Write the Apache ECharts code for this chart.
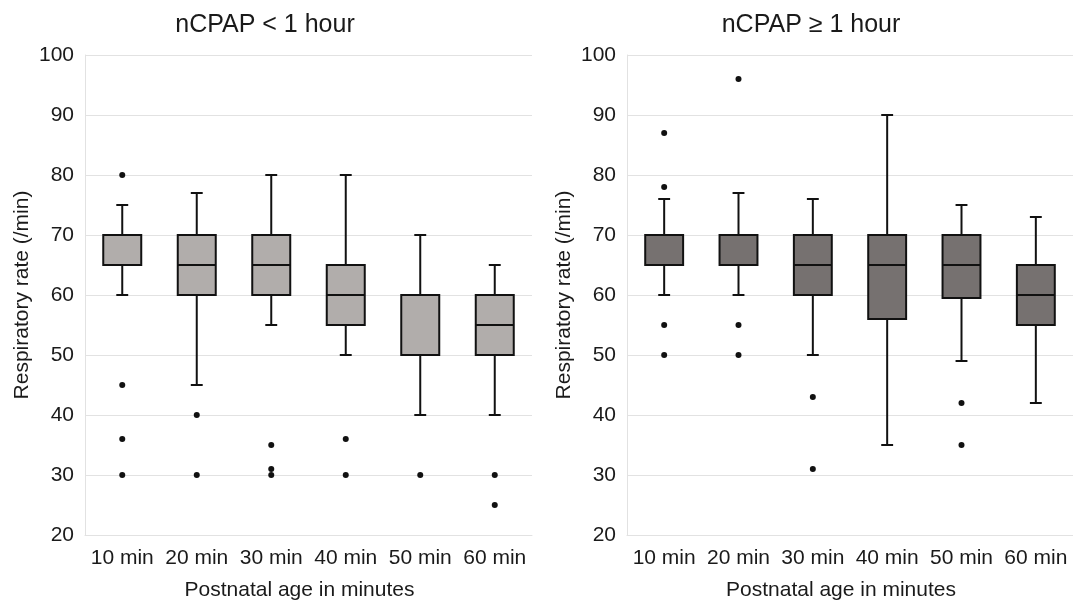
<!DOCTYPE html>
<html>
<head>
<meta charset="utf-8">
<script src="https://cdn.jsdelivr.net/npm/echarts@6/dist/echarts.min.js"></script>
<style>
  html, body { margin: 0; padding: 0; background: #fff; }
  #chart { width: 1073px; height: 605px; }
</style>
</head>
<body>
<div id="chart"></div>
<script>
// 分类
const categories = ['10 min', '20 min', '30 min', '40 min', '50 min', '60 min'];
const yTicks = [20, 30, 40, 50, 60, 70, 80, 90, 100];

// nCPAP < 1 hour: [下须, Q1, 中位数, Q3, 上须]
const shortBoxes = [
    [60, 65, 70, 70, 75],
    [45, 60, 65, 70, 77],
    [55, 60, 65, 70, 80],
    [50, 55, 60, 65, 80],
    [40, 50, 50, 60, 70],
    [40, 50, 55, 60, 65]
];
// 离群点 [分类索引, 值]
const shortOutliers = [
    [0, 80], [0, 45], [0, 36], [0, 30],
    [1, 40], [1, 30],
    [2, 35], [2, 31], [2, 30],
    [3, 36], [3, 30],
    [4, 30],
    [5, 30], [5, 25]
];

// nCPAP ≥ 1 hour
const longBoxes = [
    [60, 65, 70, 70, 76],
    [60, 65, 70, 70, 77],
    [50, 60, 65, 70, 76],
    [35, 56, 65, 70, 90],
    [49, 59.5, 65, 70, 75],
    [42, 55, 60, 65, 73]
];
const longOutliers = [
    [0, 87], [0, 78], [0, 55], [0, 50],
    [1, 96], [1, 55], [1, 50],
    [2, 43], [2, 31],
    [4, 42], [4, 35]
];

const textColor = '#1a1a1a';
const gridColor = '#e2e2e2';
const fontFamily = 'Liberation Sans, Arial, sans-serif';

// 自定义箱线图（须线端帽较短）
function makeBoxRender(fill) {
    return function (params, api) {
        const idx = api.value(0);
        const low = api.coord([idx, api.value(1)]);
        const q1 = api.coord([idx, api.value(2)]);
        const med = api.coord([idx, api.value(3)]);
        const q3 = api.coord([idx, api.value(4)]);
        const high = api.coord([idx, api.value(5)]);
        const band = api.size([1, 0])[0];
        const bw = band * 0.51;
        const cw = band * 0.16;
        const x = low[0];
        const lineStyle = { stroke: '#111', lineWidth: 2 };
        return {
            type: 'group',
            children: [
                { type: 'line', shape: { x1: x, y1: q3[1], x2: x, y2: high[1] }, style: lineStyle },
                { type: 'line', shape: { x1: x, y1: q1[1], x2: x, y2: low[1] }, style: lineStyle },
                { type: 'line', shape: { x1: x - cw / 2, y1: high[1], x2: x + cw / 2, y2: high[1] }, style: lineStyle },
                { type: 'line', shape: { x1: x - cw / 2, y1: low[1], x2: x + cw / 2, y2: low[1] }, style: lineStyle },
                { type: 'rect', shape: { x: x - bw / 2, y: q3[1], width: bw, height: q1[1] - q3[1] },
                  style: { fill: fill, stroke: '#111', lineWidth: 2 } },
                { type: 'line', shape: { x1: x - bw / 2, y1: med[1], x2: x + bw / 2, y2: med[1] }, style: lineStyle }
            ]
        };
    };
}

function boxData(boxes) {
    return boxes.map(function (b, i) { return [i].concat(b); });
}

function makeXAxis(gridIndex) {
    return {
        type: 'category',
        gridIndex: gridIndex,
        data: categories,
        boundaryGap: true,
        axisTick: { show: false },
        axisLine: { lineStyle: { color: gridColor, width: 1 } },
        axisLabel: { color: textColor, fontSize: 21, fontFamily: fontFamily, margin: 13, interval: 0 },
        name: 'Postnatal age in minutes',
        nameLocation: 'middle',
        nameGap: 45,
        nameTextStyle: { color: textColor, fontSize: 21, fontFamily: fontFamily, padding: [0, 18, 0, 0] }
    };
}

function makeYAxis(gridIndex) {
    return {
        type: 'value',
        gridIndex: gridIndex,
        min: 20,
        max: 100,
        interval: 10,
        axisTick: { show: false },
        axisLine: { show: true, lineStyle: { color: gridColor, width: 1 } },
        splitLine: { lineStyle: { color: gridColor, width: 1 } },
        axisLabel: {
            color: textColor, fontSize: 21, fontFamily: fontFamily, margin: 11,
            formatter: function (v) { return yTicks.indexOf(v) >= 0 ? String(v) : ''; }
        },
        name: 'Respiratory rate (/min)',
        nameLocation: 'middle',
        nameGap: 52,
        nameTextStyle: { color: textColor, fontSize: 21, fontFamily: fontFamily }
    };
}

function init() {
    const chart = echarts.init(document.getElementById('chart'), null, { renderer: 'canvas' });
    const option = {
        backgroundColor: '#fff',
        animation: false,
        title: [
            { text: 'nCPAP < 1 hour', left: 260, top: 8, textAlign: 'center',
              textStyle: { color: textColor, fontSize: 25, fontWeight: 'normal', fontFamily: fontFamily } },
            { text: 'nCPAP ≥ 1 hour', left: 806, top: 8, textAlign: 'center',
              textStyle: { color: textColor, fontSize: 25, fontWeight: 'normal', fontFamily: fontFamily } }
        ],
        grid: [
            { left: 85, width: 447, top: 55, height: 480, outerBoundsMode: 'none' },
            { left: 627, width: 446, top: 55, height: 480, outerBoundsMode: 'none' }
        ],
        xAxis: [makeXAxis(0), makeXAxis(1)],
        yAxis: [makeYAxis(0), makeYAxis(1)],
        series: [
            { type: 'custom', xAxisIndex: 0, yAxisIndex: 0, renderItem: makeBoxRender('#b1adab'),
              encode: { x: 0, y: [1, 2, 3, 4, 5] }, data: boxData(shortBoxes) },
            { type: 'scatter', xAxisIndex: 0, yAxisIndex: 0, symbolSize: 6,
              itemStyle: { color: '#111', opacity: 1 }, data: shortOutliers },
            { type: 'custom', xAxisIndex: 1, yAxisIndex: 1, renderItem: makeBoxRender('#767170'),
              encode: { x: 0, y: [1, 2, 3, 4, 5] }, data: boxData(longBoxes) },
            { type: 'scatter', xAxisIndex: 1, yAxisIndex: 1, symbolSize: 6,
              itemStyle: { color: '#111', opacity: 1 }, data: longOutliers }
        ]
    };
    chart.setOption(option);
}

window.addEventListener('DOMContentLoaded', init);
</script>
</body>
</html>
